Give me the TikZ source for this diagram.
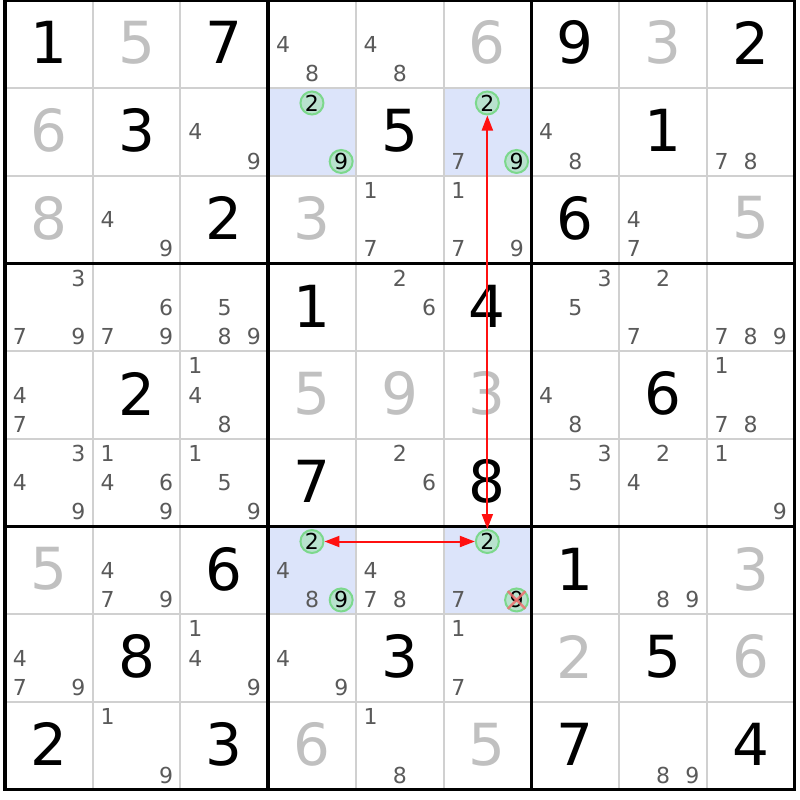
\documentclass[tikz,border=0pt]{standalone}
\usepackage{fontspec}
\setmainfont{DejaVu Sans}
\usetikzlibrary{arrows.meta}
\definecolor{solvedgray}{HTML}{C0C0C0}
\definecolor{candgray}{HTML}{5A5A5A}
\definecolor{thingrid}{HTML}{D0D0D0}
\definecolor{hlblue}{HTML}{DCE4FA}
\definecolor{circfill}{HTML}{B8E2CE}
\definecolor{circline}{HTML}{7CD88C}
\definecolor{arrowred}{HTML}{FF1010}
\definecolor{crossred}{HTML}{F07070}
\newcommand\GivenDig[3]{\node[givenst] (n-#1-#2) at ({5+87.7*#2+43.85},{0.4+87.7*#1+42.4}) {#3};}
\newcommand\SolvedDig[3]{\node[solvedst] (n-#1-#2) at ({5+87.7*#2+43.85},{0.4+87.7*#1+42.4}) {#3};}
\newcommand\CandDig[3]{\foreach \dd in {#3}{%
  \pgfmathtruncatemacro\subc{mod(\dd-1,3)}%
  \pgfmathtruncatemacro\subr{(\dd-1)/3}%
  \node[candst] (c-#1-#2-\dd) at ({5+87.7*#2+14.9+29.23*\subc},{0.4+87.7*#1+14.6+29.23*\subr}) {\dd};}}
\newcommand\CircDig[3]{%
  \pgfmathtruncatemacro\subc{mod(#3-1,3)}%
  \pgfmathtruncatemacro\subr{(#3-1)/3}%
  \node[circst] (k-#1-#2-#3) at ({5+87.7*#2+14.62+29.23*\subc},{0.4+87.7*#1+14.9+29.23*\subr}) {#3};}
\begin{document}
\begin{tikzpicture}[x=1pt,y=-1pt,
  bigd/.style={inner sep=0pt, font=\fontsize{58}{60}\selectfont},
  givenst/.style={bigd, text=black},
  solvedst/.style={bigd, text=solvedgray},
  candst/.style={inner sep=0pt, font=\fontsize{22}{24}\selectfont, text=candgray},
  circst/.style={circle, draw=circline, line width=2pt, fill=circfill, minimum size=23pt, inner sep=0pt, font=\fontsize{22}{24}\selectfont, text=black},
  linkarrow/.style={draw=arrowred, line width=2pt, {Triangle[length=15pt,width=11pt]}-{Triangle[length=15pt,width=11pt]}},
  crossline/.style={draw=crossred, line width=2.4pt, opacity=0.85},
  thinline/.style={draw=thingrid, line width=2pt},
  thickline/.style={draw=black, line width=3.4pt}]
\useasboundingbox (0,0) rectangle (800,800);
\fill[white] (0,0) rectangle (800,800);
% highlighted cells
\foreach \r/\c in {1/3,1/5,6/3,6/5}
  \fill[hlblue] ({5+87.7*\c},{0.4+87.7*\r}) rectangle ++(87.7,87.7);
% thin lines
\foreach \i in {1,2,4,5,7,8}{
  \draw[thinline] ({5+87.7*\i},0.4) -- ({5+87.7*\i},789.7);
  \draw[thinline] (5,{0.4+87.7*\i}) -- (794.3,{0.4+87.7*\i});
}
% thick lines
\foreach \i in {0,3,6,9}{
  \draw[thickline] ({5+87.7*\i},-1.3) -- ({5+87.7*\i},791.4);
  \draw[thickline] (3.3,{0.4+87.7*\i}) -- (796,{0.4+87.7*\i});
}
% givens
\GivenDig{0}{0}{1}\GivenDig{0}{2}{7}\GivenDig{0}{6}{9}\GivenDig{0}{8}{2}
\GivenDig{1}{1}{3}\GivenDig{1}{4}{5}\GivenDig{1}{7}{1}
\GivenDig{2}{2}{2}\GivenDig{2}{6}{6}
\GivenDig{3}{3}{1}\GivenDig{3}{5}{4}
\GivenDig{4}{1}{2}\GivenDig{4}{7}{6}
\GivenDig{5}{3}{7}\GivenDig{5}{5}{8}
\GivenDig{6}{2}{6}\GivenDig{6}{6}{1}
\GivenDig{7}{1}{8}\GivenDig{7}{4}{3}\GivenDig{7}{7}{5}
\GivenDig{8}{0}{2}\GivenDig{8}{2}{3}\GivenDig{8}{6}{7}\GivenDig{8}{8}{4}
% solved
\SolvedDig{0}{1}{5}\SolvedDig{0}{5}{6}\SolvedDig{0}{7}{3}
\SolvedDig{1}{0}{6}
\SolvedDig{2}{0}{8}\SolvedDig{2}{3}{3}\SolvedDig{2}{8}{5}
\SolvedDig{4}{3}{5}\SolvedDig{4}{4}{9}\SolvedDig{4}{5}{3}
\SolvedDig{6}{0}{5}\SolvedDig{6}{8}{3}
\SolvedDig{7}{6}{2}\SolvedDig{7}{8}{6}
\SolvedDig{8}{3}{6}\SolvedDig{8}{5}{5}
% candidates
\CandDig{0}{3}{4,8}\CandDig{0}{4}{4,8}
\CandDig{1}{2}{4,9}\CandDig{1}{5}{7}\CandDig{1}{6}{4,8}\CandDig{1}{8}{7,8}
\CandDig{2}{1}{4,9}\CandDig{2}{4}{1,7}\CandDig{2}{5}{1,7,9}\CandDig{2}{7}{4,7}
\CandDig{3}{0}{3,7,9}\CandDig{3}{1}{6,7,9}\CandDig{3}{2}{5,8,9}\CandDig{3}{4}{2,6}
\CandDig{3}{6}{3,5}\CandDig{3}{7}{2,7}\CandDig{3}{8}{7,8,9}
\CandDig{4}{0}{4,7}\CandDig{4}{2}{1,4,8}\CandDig{4}{6}{4,8}\CandDig{4}{8}{1,7,8}
\CandDig{5}{0}{3,4,9}\CandDig{5}{1}{1,4,6,9}\CandDig{5}{2}{1,5,9}\CandDig{5}{4}{2,6}
\CandDig{5}{6}{3,5}\CandDig{5}{7}{2,4}\CandDig{5}{8}{1,9}
\CandDig{6}{1}{4,7,9}\CandDig{6}{3}{4,8}\CandDig{6}{4}{4,7,8}\CandDig{6}{5}{7}\CandDig{6}{7}{8,9}
\CandDig{7}{0}{4,7,9}\CandDig{7}{2}{1,4,9}\CandDig{7}{3}{4,9}\CandDig{7}{5}{1,7}
\CandDig{8}{1}{1,9}\CandDig{8}{4}{1,8}\CandDig{8}{7}{8,9}
% circled candidates
\CircDig{1}{3}{2}\CircDig{1}{3}{9}
\CircDig{1}{5}{2}\CircDig{1}{5}{9}
\CircDig{6}{3}{2}\CircDig{6}{3}{9}
\CircDig{6}{5}{2}\CircDig{6}{5}{9}
% eliminated candidate
\draw[crossline] (k-6-5-9.135) -- (k-6-5-9.-45);
\draw[crossline] (k-6-5-9.45) -- (k-6-5-9.-135);
% links
\draw[linkarrow] (k-6-3-2) -- (k-6-5-2);
\draw[linkarrow] (k-1-5-2) -- (k-6-5-2);
\end{tikzpicture}
\end{document}
